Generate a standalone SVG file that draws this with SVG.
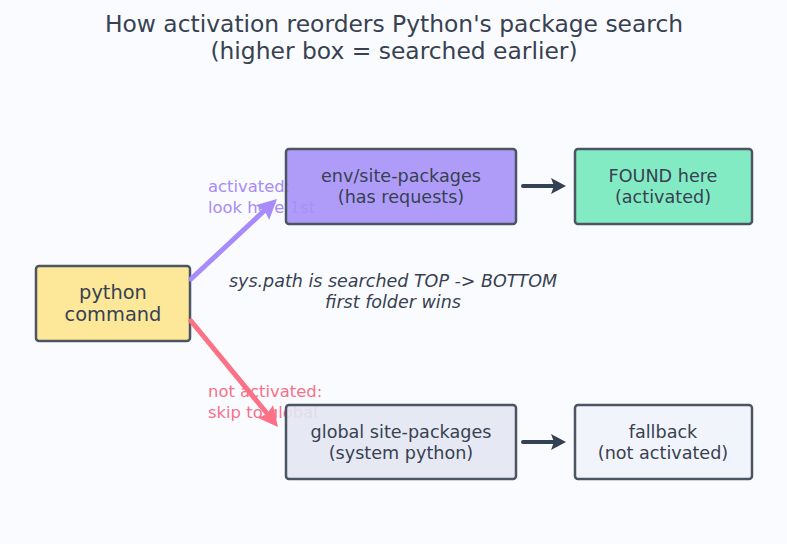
<svg xmlns="http://www.w3.org/2000/svg" width="787" height="544" viewBox="0 0 787 544">
<defs>
<style>
text{font-family:"DejaVu Sans",sans-serif;fill:#374151}
.t{font-size:23.4px;text-anchor:middle}
.n{font-size:17.6px;text-anchor:middle}
.box{stroke:#4b5563;stroke-width:2.5;fill-opacity:0.9}
.lbl{font-size:16.4px}
</style>
</defs>
<rect width="787" height="544" fill="#fafbfe"/>
<text class="t" x="394" y="32">How activation reorders Python's package search</text>
<text class="t" x="394" y="59">(higher box = searched earlier)</text>
<g id="labels">
<text class="lbl" x="208" y="192" style="fill:#a78bfa">activated:</text>
<text class="lbl" x="208" y="213" style="fill:#a78bfa">look here 1st</text>
<text class="lbl" x="208" y="397" style="fill:#f47289">not activated:</text>
<text class="lbl" x="208" y="418" style="fill:#f47289">skip to global</text>
</g>
<g id="python"><rect class="box" x="36" y="266" width="154" height="75" rx="3" fill="#fde68f"/><text class="n" x="113" y="299" style="font-size:19.4px">python</text><text class="n" x="113" y="321" style="font-size:19.4px">command</text></g>
<g id="env"><rect class="box" x="286" y="149" width="230" height="75" rx="3" fill="#a691f8"/><text class="n" x="401" y="182">env/site-packages</text><text class="n" x="401" y="203">(has requests)</text></g>
<g id="found"><rect class="box" x="575" y="149" width="177" height="75" rx="3" fill="#76e9bd"/><text class="n" x="663" y="182">FOUND here</text><text class="n" x="663" y="203">(activated)</text></g>
<g id="global"><rect class="box" x="286" y="405" width="230" height="74" rx="3" fill="#e3e7f2"/><text class="n" x="401" y="438">global site-packages</text><text class="n" x="401" y="459">(system python)</text></g>
<g id="fallback"><rect class="box" x="575" y="405" width="177" height="74" rx="3" fill="#f0f3f9"/><text class="n" x="663" y="438">fallback</text><text class="n" x="663" y="459">(not activated)</text></g>
<text x="393" y="287" style="font-size:17.5px;font-style:italic;text-anchor:middle">sys.path is searched TOP -&gt; BOTTOM</text>
<text x="393" y="308" style="font-size:17.5px;font-style:italic;text-anchor:middle">first folder wins</text>
<g id="connectors" stroke-linecap="round">
<line x1="191" y1="279" x2="265" y2="210" stroke="#a78bfa" stroke-width="5"/>
<path d="M277,199 L269.2,219.9 L264.6,210.6 L255.6,205.3 Z" fill="#a78bfa"/>
<line x1="191" y1="321" x2="267.5" y2="414" stroke="#fb7185" stroke-width="5"/>
<path d="M278,427 L257.6,417.8 L267.2,413.9 L273,405.2 Z" fill="#fb7185"/>
<line x1="523" y1="186" x2="556" y2="186" stroke="#334155" stroke-width="4"/>
<path d="M566,186 L551,178 L554,186 L551,194 Z" fill="#334155"/>
<line x1="523" y1="442" x2="556" y2="442" stroke="#334155" stroke-width="4"/>
<path d="M566,442 L551,434 L554,442 L551,450 Z" fill="#334155"/>
</g>
</svg>
